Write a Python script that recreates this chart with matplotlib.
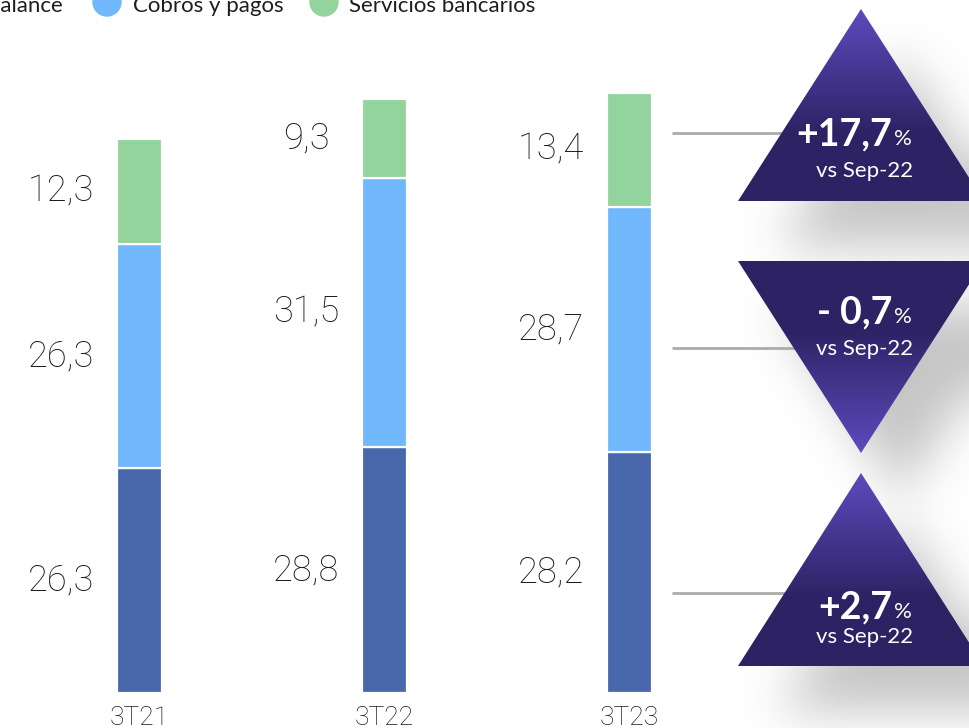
import numpy as np
import matplotlib
matplotlib.use("Agg")
import matplotlib.pyplot as plt
from matplotlib.patches import Polygon, Circle
from matplotlib.path import Path

# ---------------- data ----------------
categories = ["3T21", "3T22", "3T23"]
balance = [26.3, 28.8, 28.2]
cobros = [26.3, 31.5, 28.7]
servicios = [12.3, 9.3, 13.4]
series_names = ["Balance", "Cobros y pagos", "Servicios bancarios"]
changes = ["+17,7", "- 0,7", "+2,7"]
change_note = "vs Sep-22"

colors = ["#4868AB", "#70B8FB", "#93D39D"]
FONT = "Lato"
LFONT = "Roboto"

W, H = 970, 728
fig = plt.figure(figsize=(W / 100, H / 100), dpi=100)
fig.patch.set_facecolor("white")

# data axes spanning the whole figure
ax = fig.add_axes([0, 0, 1, 1])
ax.set_xlim(-0.569, 3.390)
ax.set_ylim(-4.10, 81.15)
ax.axis("off")

x = np.arange(len(categories))
bw = 0.186
bottoms = np.zeros(len(categories))
for vals, col in zip([balance, cobros, servicios], colors):
    vals = np.array(vals)
    ax.bar(x, vals, bw, bottom=bottoms, color=col, edgecolor="white",
           linewidth=1.6, zorder=2)
    for xi, b, v in zip(x, bottoms, vals):
        ax.text(xi - 0.32, b + v / 2, f"{v:.1f}".replace(".", ","),
                ha="center", va="center", fontsize=26, family=LFONT,
                fontweight="light", color="#1a1a1a", zorder=3)
    bottoms = bottoms + vals

for xi, c in zip(x, categories):
    ax.text(xi, -3.72, c, ha="center", va="baseline", fontsize=19,
            family=LFONT, fontweight="light", color="#1a1a1a")

# ---------------- decoration layer (pixel coordinates) ----------------
d = fig.add_axes([0, 0, 1, 1])
d.set_xlim(0, W)
d.set_ylim(H, 0)
d.axis("off")
d.patch.set_visible(False)

tris = [
    [(861, 9), (738, 201), (984, 201)],      # up
    [(738, 261), (984, 261), (861, 453)],    # down
    [(861, 473), (738, 666), (984, 666)],    # up
]
ups = [True, False, True]

# soft shadow
gx, gy = np.meshgrid(np.arange(W) + 0.5, np.arange(H) + 0.5)
pts = np.column_stack([gx.ravel(), gy.ravel()])
mask = np.zeros(H * W)
for t in tris:
    sh = [(px + 40, py + 45) for px, py in t]
    mask = np.maximum(mask, Path(sh).contains_points(pts).astype(float))
mask = mask.reshape(H, W)

def blur1d(a, sigma, axis):
    r = int(3 * sigma)
    k = np.exp(-0.5 * (np.arange(-r, r + 1) / sigma) ** 2)
    k /= k.sum()
    pad = [(0, 0), (0, 0)]
    pad[axis] = (r, r)
    ap = np.pad(a, pad, mode="edge")
    out = np.zeros_like(a)
    n = a.shape[axis]
    for i, w in enumerate(k):
        if axis == 0:
            out += w * ap[i:i + n, :]
        else:
            out += w * ap[:, i:i + n]
    return out

blurred = blur1d(blur1d(mask, 24, 0), 24, 1)
shadow = np.zeros((H, W, 4))
shadow[..., :3] = 0.55
shadow[..., 3] = 0.5 * blurred
d.imshow(shadow, extent=(0, W, H, 0), zorder=1, interpolation="bilinear")

# connector lines
for yy in [133, 348, 593]:
    d.plot([672, 800], [yy, yy], color="#ababab", lw=2, zorder=2,
           solid_capstyle="butt")

# gradient triangles
light = np.array(matplotlib.colors.to_rgb("#5e4abd"))
dark = np.array(matplotlib.colors.to_rgb("#2d2264"))
for t, up in zip(tris, ups):
    ys = [p[1] for p in t]
    y0, y1 = min(ys), max(ys)
    n = 200
    f = np.linspace(0, 1, n)  # 0 at top, 1 at bottom
    if up:
        s = np.clip(f / 0.65, 0, 1)
    else:
        s = np.clip((1 - f) / 0.65, 0, 1)
    col = light[None, :] * (1 - s[:, None]) + dark[None, :] * s[:, None]
    img = np.repeat(col[:, None, :], 2, axis=1)
    poly = Polygon(t, closed=True, facecolor="none", edgecolor="none")
    d.add_patch(poly)
    im = d.imshow(img, extent=(736, 986, y1, y0), zorder=3, aspect="auto",
                  interpolation="bilinear")
    im.set_clip_path(poly)

# triangle texts
main_base = [145, 323, 618]
note_base = [177, 355, 643]
for ch, yb, yn in zip(changes, main_base, note_base):
    d.text(892, yb, ch, ha="right", va="baseline", fontsize=27,
           family=FONT, fontweight="bold", color="white", zorder=5)
    d.text(894, yb, "%", ha="left", va="baseline", fontsize=16,
           family=FONT, color="white", zorder=5)
    d.text(865, yn, change_note, ha="center", va="baseline", fontsize=16,
           family=FONT, color="white", zorder=5)

# legend (partially cut at top as in the reference)
leg_text_x = [63, 133, 349]
leg_circ_x = [-115, 107, 324]
leg_ha = ["right", "left", "left"]
for name, tx, cx, ha, col in zip(series_names, leg_text_x, leg_circ_x,
                                  leg_ha, colors):
    d.add_patch(Circle((cx, 2), 14, color=col, zorder=4))
    d.text(tx, 12.5, name, ha=ha, va="baseline", fontsize=16,
           family=FONT, color="#1e1e1e", zorder=4)

fig.savefig("out.png", dpi=100, facecolor="white")
